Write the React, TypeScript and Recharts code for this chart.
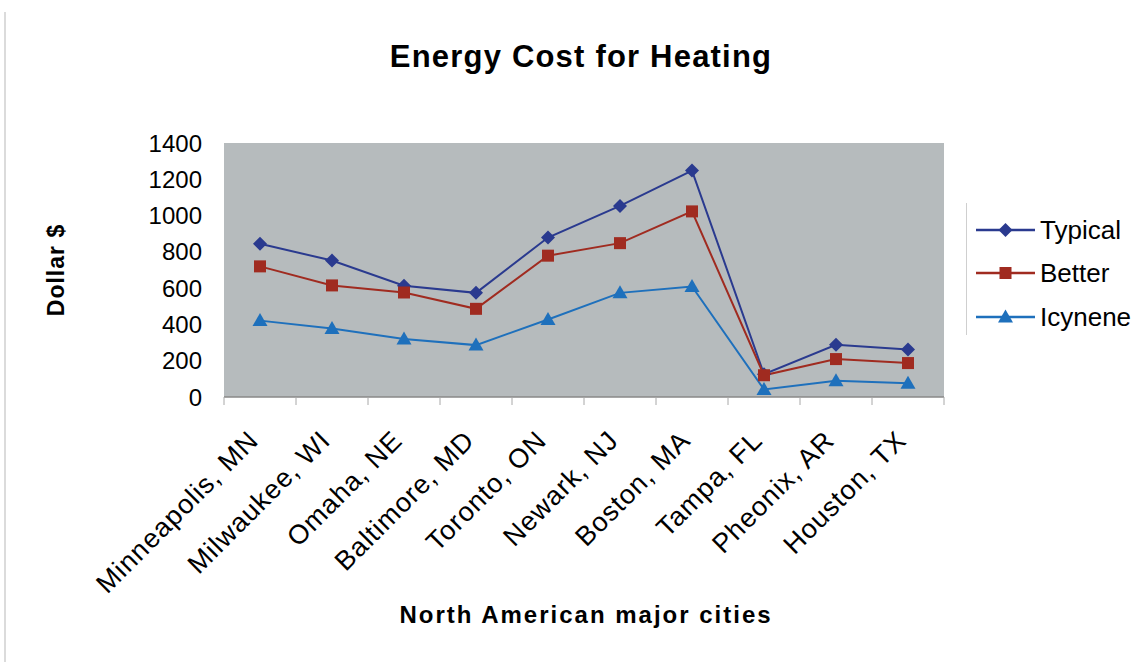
import React from 'react';
import { LineChart, Line, XAxis, YAxis, CartesianGrid, Legend, Label } from 'recharts';

const cities = ['Minneapolis, MN', 'Milwaukee, WI', 'Omaha, NE', 'Baltimore, MD', 'Toronto, ON', 'Newark, NJ', 'Boston, MA', 'Tampa, FL', 'Pheonix, AR', 'Houston, TX'];
const typical = [845, 752, 613, 574, 879, 1053, 1248, 126, 288, 262];
const better = [720, 615, 576, 486, 779, 848, 1023, 120, 209, 187];
const icynene = [421, 377, 320, 286, 427, 574, 609, 42, 89, 76];
const yTicks = [0, 200, 400, 600, 800, 1000, 1200, 1400];

const data = cities.map((c, i) => ({ city: c, typical: typical[i], better: better[i], icynene: icynene[i] }));

const FONT = '"Liberation Sans", Arial, sans-serif';
const W = 1140;
const H = 662;
const MARGIN = { top: 143, right: 196, bottom: 0, left: 164 };
const Y_AXIS_W = 60;
const X_AXIS_H = 265;
const PLOT_W = W - MARGIN.left - MARGIN.right - Y_AXIS_W;

const C_TYP = '#2A3A8F';
const C_BET = '#A02B20';
const C_ICY = '#1E70BC';

type Shape = 'diamond' | 'square' | 'triangle';

const Marker = ({ cx, cy, color, shape }: { cx: number; cy: number; color: string; shape: Shape }) => {
  if (cx == null || cy == null) return null;
  if (shape === 'diamond') {
    const r = 7;
    return <polygon points={`${cx},${cy - r} ${cx + r},${cy} ${cx},${cy + r} ${cx - r},${cy}`} fill={color} />;
  }
  if (shape === 'square') {
    return <rect x={cx - 6} y={cy - 6} width={12} height={12} fill={color} />;
  }
  return <polygon points={`${cx},${cy - 7.5} ${cx + 7.5},${cy + 5.5} ${cx - 7.5},${cy + 5.5}`} fill={color} />;
};

const series: { key: string; name: string; color: string; shape: Shape }[] = [
  { key: 'typical', name: 'Typical', color: C_TYP, shape: 'diamond' },
  { key: 'better', name: 'Better', color: C_BET, shape: 'square' },
  { key: 'icynene', name: 'Icynene', color: C_ICY, shape: 'triangle' },
];

const CityTick = (props: any) => {
  const { x, y, payload, index } = props;
  const band = PLOT_W / cities.length;
  const ty = y + 45;
  return (
    <g>
      <line x1={x - band / 2} y1={y} x2={x - band / 2} y2={y + 8} stroke="#a8a8a8" strokeWidth={1} />
      {index === cities.length - 1 && (
        <line x1={x + band / 2} y1={y} x2={x + band / 2} y2={y + 8} stroke="#a8a8a8" strokeWidth={1} />
      )}
      <text
        x={x}
        y={ty}
        transform={`rotate(-45 ${x} ${ty})`}
        textAnchor="end"
        fontSize={27}
        letterSpacing={1}
        fontFamily={FONT}
        fill="#000"
      >
        {payload.value}
      </text>
    </g>
  );
};

const LegendContent = () => (
  <div
    style={{
      borderLeft: '1.5px solid #cfcfcf',
      height: 132,
      paddingTop: 5,
      boxSizing: 'border-box',
      fontFamily: FONT,
    }}
  >
    {series.map((s) => (
      <div key={s.key} style={{ display: 'flex', alignItems: 'center', height: 43.5 }}>
        <svg width={59} height={20} style={{ marginLeft: 9, display: 'block' }}>
          <line x1={0} y1={10} x2={59} y2={10} stroke={s.color} strokeWidth={2.5} />
          <Marker cx={29.5} cy={10} color={s.color} shape={s.shape} />
        </svg>
        <span style={{ marginLeft: 5, fontSize: 26, color: '#000', lineHeight: 1 }}>{s.name}</span>
      </div>
    ))}
  </div>
);

export default function App() {
  return (
    <div style={{ position: 'absolute', left: 0, top: 0, width: W, height: H, background: '#fff' }}>
      <LineChart width={W} height={H} data={data} margin={MARGIN}>
        <CartesianGrid fill="#B6BBBD" stroke="none" horizontal={false} vertical={false} />
        <XAxis
          dataKey="city"
          scale="band"
          height={X_AXIS_H}
          interval={0}
          tickSize={0}
          tickMargin={0}
          tickLine={false}
          axisLine={{ stroke: '#888', strokeWidth: 1.5 }}
          tick={<CityTick />}
        >
          <Label
            content={(p: any) => {
              const vb = p.viewBox || {};
              const cx = (vb.x ?? 224) + (vb.width ?? PLOT_W) / 2 + 2;
              return (
                <text x={cx} y={623} textAnchor="middle" fontSize={24} fontWeight="bold" letterSpacing={2} fontFamily={FONT} fill="#000">
                  North American major cities
                </text>
              );
            }}
          />
        </XAxis>
        <YAxis
          width={Y_AXIS_W}
          domain={[0, 1400]}
          ticks={yTicks}
          interval={0}
          tickLine={false}
          axisLine={false}
          tickSize={6}
          tickMargin={16}
          tick={{ fontSize: 24, fill: '#000', fontFamily: FONT }}
        >
          <Label
            content={() => (
              <text
                x={56}
                y={270}
                transform="rotate(-90 56 270)"
                textAnchor="middle"
                dominantBaseline="central"
                fontSize={23}
                fontWeight="bold"
                letterSpacing={1}
                fontFamily={FONT}
                fill="#000"
              >
                Dollar $
              </text>
            )}
          />
        </YAxis>
        <Legend
          layout="vertical"
          align="center"
          verticalAlign="middle"
          content={<LegendContent />}
          wrapperStyle={{ position: 'absolute', left: 966, top: 203, width: 174, height: 132 }}
        />
        {series.map((s) => (
          <Line
            key={s.key}
            type="linear"
            dataKey={s.key}
            name={s.name}
            stroke={s.color}
            strokeWidth={2}
            isAnimationActive={false}
            activeDot={false}
            dot={(p: any) => <Marker key={`${s.key}-${p.index}`} cx={p.cx} cy={p.cy} color={s.color} shape={s.shape} />}
          />
        ))}
      </LineChart>
      <svg
        width={W}
        height={H}
        style={{ position: 'absolute', left: 0, top: 0, pointerEvents: 'none' }}
      >
        <line x1={5} y1={12} x2={5} y2={H} stroke="#cfcfcf" strokeWidth={1.5} />
        <text x={581} y={67} textAnchor="middle" fontSize={31} fontWeight="bold" letterSpacing={1.2} fontFamily={FONT} fill="#000">
          Energy Cost for Heating
        </text>
      </svg>
    </div>
  );
}
